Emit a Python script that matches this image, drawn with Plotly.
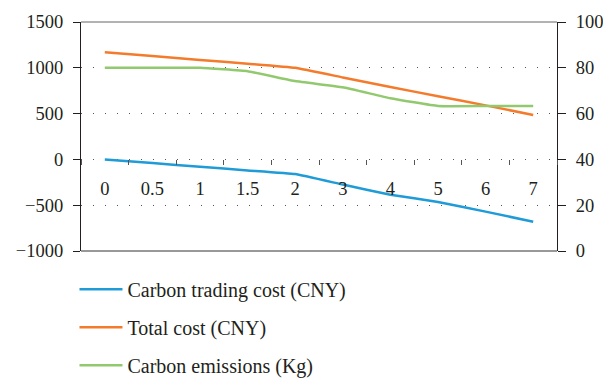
import plotly.graph_objects as go

# Carbon price factor (categories, evenly spaced on the axis)
categories = ["0", "0.5", "1", "1.5", "2", "3", "4", "5", "6", "7"]

# Left axis series (CNY)
carbon_trading_cost = [0, -40, -80, -120, -160, -275, -385, -465, -570, -680]
total_cost = [1170, 1130, 1085, 1045, 1000, 895, 790, 690, 590, 485]

# Right axis series (Kg)
carbon_emissions = [80, 80, 80, 78.5, 74.2, 71.5, 66.7, 63.3, 63.3, 63.3]

left_ticks = [-1000, -500, 0, 500, 1000, 1500]
right_ticks = [0, 20, 40, 60, 80, 100]

FONT = "Liberation Serif"
TXT = "#231f20"
TICK_SIZE = 18.5
LEGEND_SIZE = 20

fig = go.Figure()
fig.add_trace(go.Scatter(x=categories, y=carbon_trading_cost, mode="lines",
                         name="Carbon trading cost (CNY)", legendgroup="a",
                         line=dict(color="#1f9bd7", width=2.5, shape="spline", smoothing=0.3)))
fig.add_trace(go.Scatter(x=categories, y=total_cost, mode="lines",
                         name="Total cost (CNY)", legendgroup="b",
                         line=dict(color="#f47b2b", width=2.5, shape="spline", smoothing=0.3)))
fig.add_trace(go.Scatter(x=categories, y=carbon_emissions, mode="lines", yaxis="y2",
                         name="Carbon emissions (Kg)", legendgroup="c",
                         line=dict(color="#92c96f", width=2.5, shape="spline", smoothing=0.3)))

fig.update_layout(
    width=603, height=379,
    margin=dict(l=81, r=46, t=22, b=128, autoexpand=False),
    paper_bgcolor="white", plot_bgcolor="white",
    font=dict(family=FONT, size=TICK_SIZE, color=TXT),
    showlegend=True,
    legend=dict(x=-0.0137, y=-0.082, xanchor="left", yanchor="top",
                orientation="v", tracegroupgap=9, itemwidth=43,
                font=dict(family=FONT, size=LEGEND_SIZE, color=TXT),
                bgcolor="rgba(0,0,0,0)"),
    xaxis=dict(type="category", categoryorder="array", categoryarray=categories,
               range=[-0.5, 9.5], anchor="free", position=0.4,
               showline=False, showgrid=False, zeroline=False,
               ticks="outside", tickson="boundaries", ticklen=5,
               tickcolor="#555", tickwidth=1,
               ticklabelstandoff=16,
               tickfont=dict(family=FONT, size=TICK_SIZE, color=TXT)),
    yaxis=dict(range=[-1000, 1500], tickvals=left_ticks,
               ticktext=[("\u2212" + str(abs(v))) if v < 0 else str(v) for v in left_ticks],
               showline=True, linecolor="#231f20", linewidth=1,
               ticks="outside", ticklen=7, tickcolor="#231f20",
               ticklabelstandoff=6,
               showgrid=True, gridcolor="#555", gridwidth=1, griddash="1px,11px",
               zeroline=False,
               tickfont=dict(family=FONT, size=TICK_SIZE, color=TXT)),
    yaxis2=dict(range=[0, 100], tickvals=right_ticks, overlaying="y", side="right",
                showline=True, linecolor="#231f20", linewidth=1,
                ticks="outside", ticklen=8, tickcolor="#231f20",
                ticklabelstandoff=6,
                showgrid=False, zeroline=False,
                tickfont=dict(family=FONT, size=TICK_SIZE, color=TXT)),
    shapes=[
        dict(type="line", xref="paper", yref="paper", x0=0, x1=1, y0=1, y1=1,
             line=dict(color="#666", width=1)),
        dict(type="line", xref="paper", yref="paper", x0=0, x1=1, y0=0, y1=0,
             line=dict(color="#333", width=1)),
    ],
)

fig.write_html("out.html")
